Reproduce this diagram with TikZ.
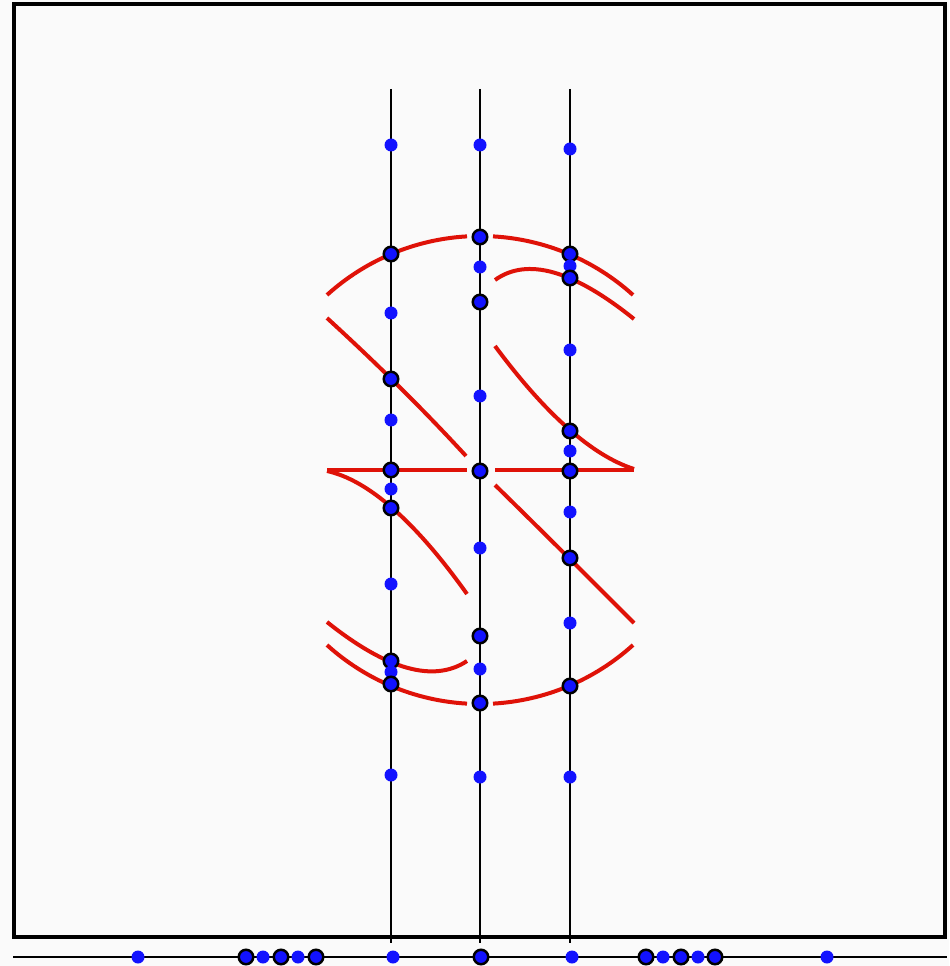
\documentclass[tikz,border=0pt]{standalone}
\usepackage{tikz}
\definecolor{paper}{HTML}{FAFAFA}
\definecolor{glyphred}{HTML}{DF1208}
\definecolor{dotblue}{HTML}{1212FF}
\tikzset{
  frame/.style={draw=black, line width=0.8mm},
  scan/.style={draw=black, line width=0.4mm},
  axis/.style={draw=black, line width=0.5mm},
  glyph/.style={draw=glyphred, line width=0.8mm},
  hit/.style={circle, draw=black, line width=0.5mm, fill=dotblue,
              inner sep=0pt, minimum size=2.9mm},
  probe/.style={circle, fill=dotblue, inner sep=0pt, minimum size=2.6mm},
}

\begin{document}
\begin{tikzpicture}[x=0.2mm, y=-0.2mm]
  \fill[paper] (0,0) rectangle (949,966);
  \useasboundingbox (0,0) rectangle (949,966);
  \draw[frame] (14,4) rectangle (945,937);
  % three scan lines and the axis below
  \coordinate (s1t) at (391,89);  \coordinate (s1b) at (391,943);
  \coordinate (s2t) at (480,89);  \coordinate (s2b) at (480,943);
  \coordinate (s3t) at (570,89);  \coordinate (s3b) at (570,943);
  \coordinate (axl) at (13,957);  \coordinate (axr) at (947,957);
  \draw[scan] (s1t) -- (s1b);
  \draw[scan] (s2t) -- (s2b);
  \draw[scan] (s3t) -- (s3b);
  \draw[axis] (axl) -- (axr);
  % outline of the glyph
  \coordinate (ctop) at (480,464);
  \coordinate (cbot) at (480,476);
  \draw[glyph] (ctop) ++(-132.15:228) arc[start angle=-132.15, end angle=-93.27, radius=228];
  \draw[glyph] (ctop) ++(-86.73:228) arc[start angle=-86.73, end angle=-47.85, radius=228];
  \draw[glyph] (cbot) ++(47.85:228) arc[start angle=47.85, end angle=86.73, radius=228];
  \draw[glyph] (cbot) ++(93.27:228) arc[start angle=93.27, end angle=132.15, radius=228];
  \draw[glyph] (495,280) .. controls (527,257) and (573,270) .. (634,319);
  \draw[glyph] (327,622) .. controls (387,670) and (434,683) .. (467,661);
  \draw[glyph] (327,318) .. controls (374,361) and (421,407) .. (466,456);
  \draw[glyph] (495,485) .. controls (541,530) and (588,577) .. (634,623);
  \draw[glyph] (495,346) .. controls (546,415) and (593,456) .. (634,469);
  \draw[glyph] (327,471) .. controls (368,480) and (415,521) .. (467,594);
  \draw[glyph] (327,470) -- (467,470);
  \draw[glyph] (495,470) -- (634,470);
  % samples on the left scan line
  \node[probe] (a1) at (391,145) {};
  \node[hit]   (a2) at (391,254) {};
  \node[probe] (a3) at (391,313) {};
  \node[hit]   (a4) at (391,379) {};
  \node[probe] (a5) at (391,420) {};
  \node[hit]   (a6) at (391,470) {};
  \node[probe] (a7) at (391,489) {};
  \node[hit]   (a8) at (391,508) {};
  \node[probe] (a9) at (391,584) {};
  \node[hit]   (a10) at (391,661) {};
  \node[probe] (a11) at (391,672) {};
  \node[hit]   (a12) at (391,684) {};
  \node[probe] (a13) at (391,775) {};
  % samples on the middle scan line
  \node[probe] (b1) at (480,145) {};
  \node[hit]   (b2) at (480,237) {};
  \node[probe] (b3) at (480,267) {};
  \node[hit]   (b4) at (480,302) {};
  \node[probe] (b5) at (480,396) {};
  \node[hit]   (b6) at (480,471) {};
  \node[probe] (b7) at (480,548) {};
  \node[hit]   (b8) at (480,636) {};
  \node[probe] (b9) at (480,669) {};
  \node[hit]   (b10) at (480,703) {};
  \node[probe] (b11) at (480,777) {};
  % samples on the right scan line
  \node[probe] (c1) at (570,149) {};
  \node[hit]   (c2) at (570,254) {};
  \node[probe] (c3) at (570,266) {};
  \node[hit]   (c4) at (570,278) {};
  \node[probe] (c5) at (570,350) {};
  \node[hit]   (c6) at (570,431) {};
  \node[probe] (c7) at (570,451) {};
  \node[hit]   (c8) at (570,471) {};
  \node[probe] (c9) at (570,512) {};
  \node[hit]   (c10) at (570,558) {};
  \node[probe] (c11) at (570,623) {};
  \node[hit]   (c12) at (570,686) {};
  \node[probe] (c13) at (570,777) {};
  % samples on the axis
  \node[probe] (d1) at (138,957) {};
  \node[hit]   (d2) at (246,957) {};
  \node[probe] (d3) at (263,957) {};
  \node[hit]   (d4) at (281,957) {};
  \node[probe] (d5) at (298,957) {};
  \node[hit]   (d6) at (316,957) {};
  \node[probe] (d7) at (393,957) {};
  \node[hit]   (d8) at (481,957) {};
  \node[probe] (d9) at (572,957) {};
  \node[hit]   (d10) at (646,957) {};
  \node[probe] (d11) at (663,957) {};
  \node[hit]   (d12) at (681,957) {};
  \node[probe] (d13) at (698,957) {};
  \node[hit]   (d14) at (715,957) {};
  \node[probe] (d15) at (827,957) {};
\end{tikzpicture}
\end{document}
